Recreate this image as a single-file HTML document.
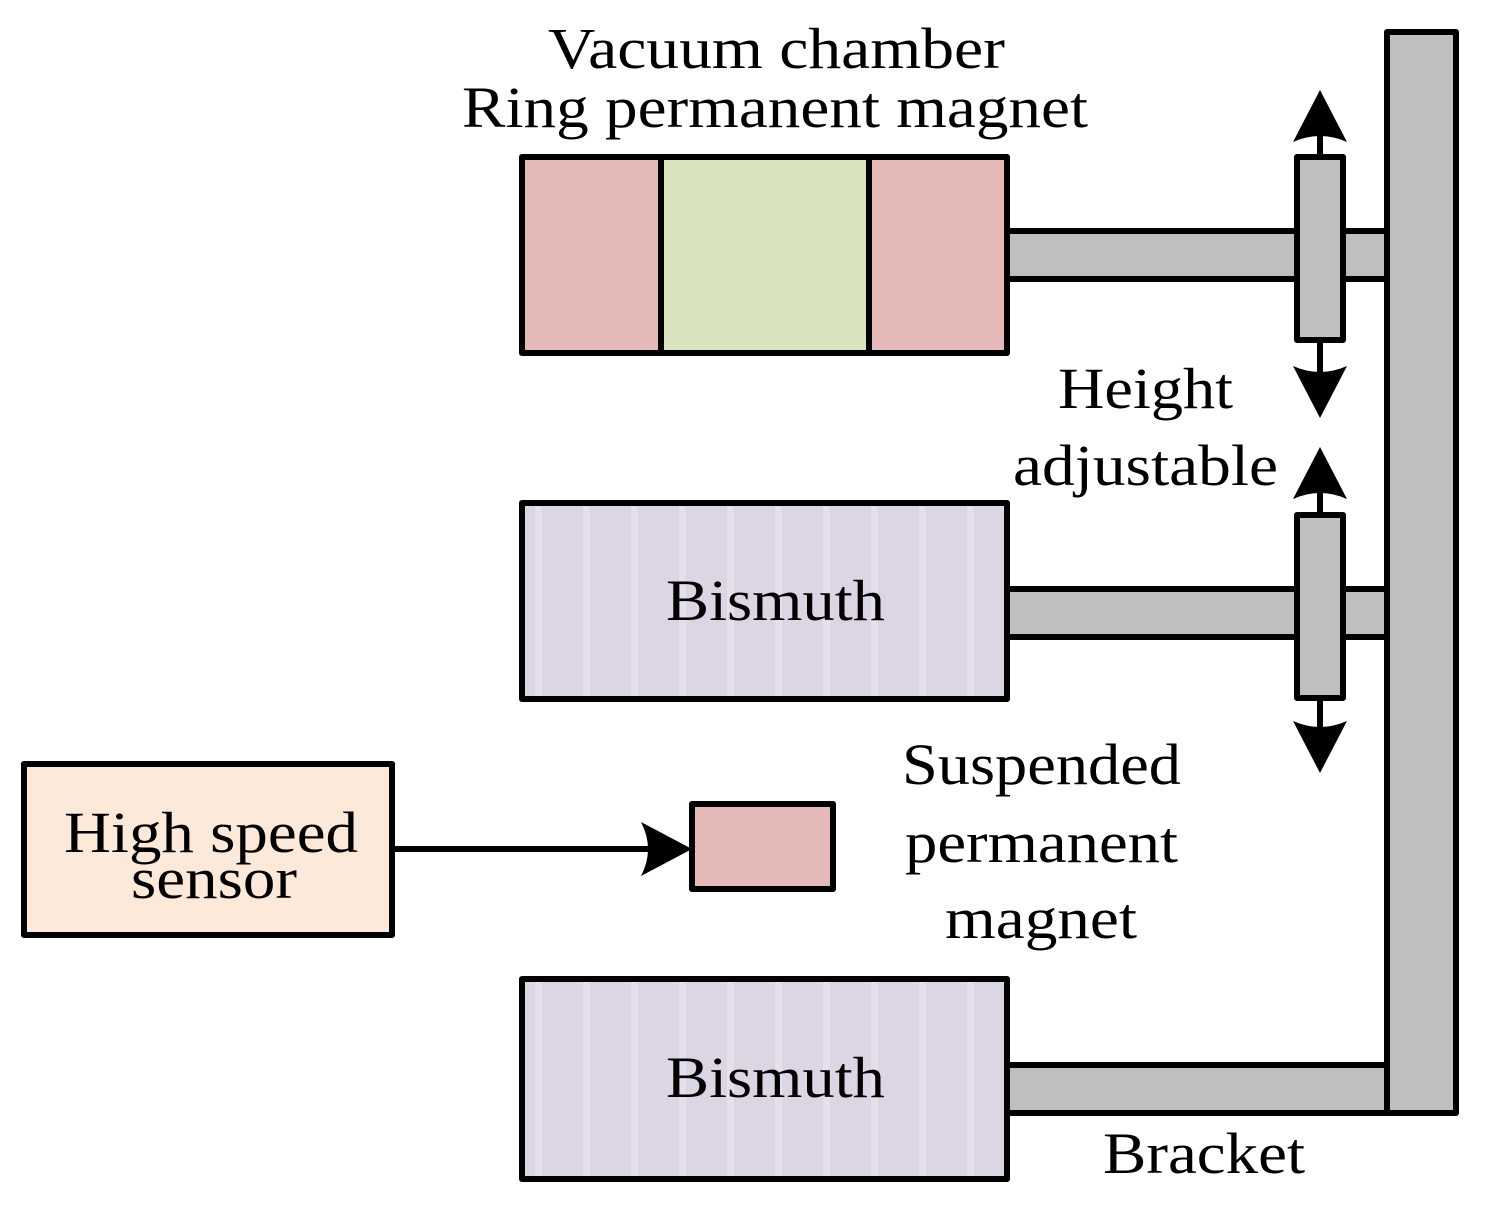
<!DOCTYPE html>
<html><head><meta charset="utf-8"><style>html,body{margin:0;padding:0;background:#fff}svg{display:block}</style></head>
<body>
<svg width="1492" height="1210" viewBox="0 0 1492 1210" xmlns="http://www.w3.org/2000/svg" font-family="Liberation Serif, serif" font-size="58">
<defs>
<pattern id="st" x="522" y="0" width="48" height="10" patternUnits="userSpaceOnUse">
<rect width="48" height="10" fill="#dcd6e4"/><rect x="13" width="7" height="10" fill="#e5e0eb"/>
</pattern>
</defs>
<g stroke="#000" stroke-width="6" stroke-linejoin="round">
<rect x="1387" y="32" width="69" height="1081" fill="#bfbfbf"/>
<rect x="1007" y="231" width="380" height="48" fill="#bfbfbf"/>
<rect x="1007" y="589" width="380" height="48" fill="#bfbfbf"/>
<rect x="1007" y="1065" width="380" height="48" fill="#bfbfbf"/>
<rect x="522" y="157" width="485" height="196" fill="#e5b9b7"/>
<rect x="661" y="157" width="208" height="196" fill="#d7e4bd"/>
<rect x="522" y="503" width="485" height="196" fill="url(#st)"/>
<rect x="522" y="979" width="485" height="200" fill="url(#st)"/>
<line x1="1320" y1="130" x2="1320" y2="380"/>
<rect x="1297" y="157" width="46" height="183" fill="#bfbfbf"/>
<line x1="1320" y1="488" x2="1320" y2="735"/>
<rect x="1297" y="515" width="46" height="183" fill="#bfbfbf"/>
<rect x="24" y="764" width="368" height="171" fill="#fde9d9"/>
<line x1="392" y1="849" x2="660" y2="849"/>
<rect x="692" y="804" width="141" height="85" fill="#e5b9b7"/>
</g>
<g fill="#000">
<path d="M1320 90 L1347 142 Q1320 130 1293 142 Z"/>
<path d="M1320 418 L1347 366 Q1320 378 1293 366 Z"/>
<path d="M1320 447 L1347 499 Q1320 487 1293 499 Z"/>
<path d="M1320 773 L1347 721 Q1320 733 1293 721 Z"/>
<path d="M692 849 L641 822 Q655 849 641 876 Z"/>
</g>
<g fill="#000" lengthAdjust="spacingAndGlyphs">
<text x="548" y="68" textLength="457" lengthAdjust="spacingAndGlyphs">Vacuum chamber</text>
<text x="462" y="127" textLength="626" lengthAdjust="spacingAndGlyphs">Ring permanent magnet</text>
<text x="1058" y="408" textLength="175" lengthAdjust="spacingAndGlyphs">Height</text>
<text x="1013" y="485" textLength="265" lengthAdjust="spacingAndGlyphs">adjustable</text>
<text x="666" y="620" textLength="219" lengthAdjust="spacingAndGlyphs">Bismuth</text>
<text x="666" y="1097" textLength="219" lengthAdjust="spacingAndGlyphs">Bismuth</text>
<text x="64" y="852" textLength="294" lengthAdjust="spacingAndGlyphs">High speed</text>
<text x="131" y="898" textLength="166" lengthAdjust="spacingAndGlyphs">sensor</text>
<text x="902" y="784" textLength="279" lengthAdjust="spacingAndGlyphs">Suspended</text>
<text x="905" y="862" textLength="273" lengthAdjust="spacingAndGlyphs">permanent</text>
<text x="945" y="938" textLength="192" lengthAdjust="spacingAndGlyphs">magnet</text>
<text x="1103" y="1173" textLength="202" lengthAdjust="spacingAndGlyphs">Bracket</text>
</g>
</svg>
</body></html>
